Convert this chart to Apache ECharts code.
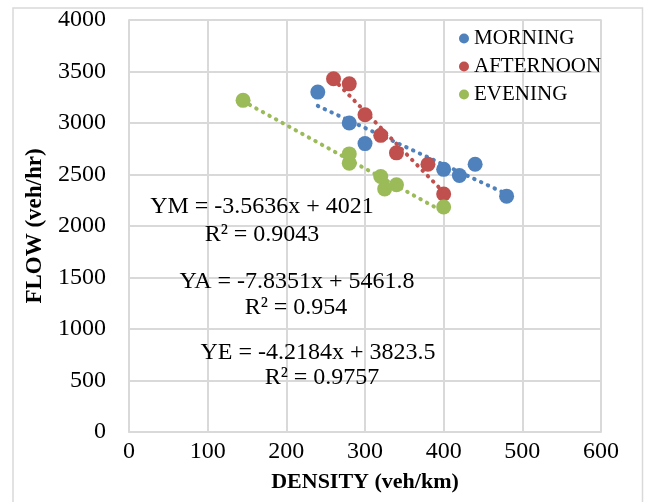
<!DOCTYPE html>
<html>
<head>
<meta charset="utf-8">
<script src="https://cdn.jsdelivr.net/npm/echarts@6/dist/echarts.min.js"></script>
<style>
html,body{margin:0;padding:0;background:#fff;}
#chart{width:646px;height:502px;}
</style>
</head>
<body>
<div id="chart"></div>
<script>
// ---- data ----
const seriesNames = ['MORNING', 'AFTERNOON', 'EVENING'];
const morning = [[240,3300],[280,3000],[300,2800],[400,2550],[420,2490],[440,2600],[480,2290]];
const afternoon = [[260,3430],[280,3380],[300,3080],[320,2880],[340,2710],[380,2600],[400,2310]];
const evening = [[145,3220],[280,2700],[280,2610],[320,2480],[325,2360],[340,2400],[400,2185]];
// trendline coefficients (slope, intercept) as printed on the chart
const slopes = [-3.5636, -7.8351, -4.2184];
const intercepts = [4021, 5461.8, 3823.5];
const equationTexts = ['YM = -3.5636x + 4021', 'YA = -7.8351x + 5461.8', 'YE = -4.2184x + 3823.5'];
const r2Texts = ['R² = 0.9043', 'R² = 0.954', 'R² = 0.9757'];
const xTicks = [0, 100, 200, 300, 400, 500, 600];
const yTicks = [0, 500, 1000, 1500, 2000, 2500, 3000, 3500, 4000];

const colors = ['#4F81BD', '#C0504D', '#9BBB59'];
const font = '"Liberation Serif", "Times New Roman", serif';
const allData = [morning, afternoon, evening];

function trend(i) {
  const xs = allData[i].map(p => p[0]);
  const x0 = Math.min(...xs), x1 = Math.max(...xs);
  return [[x0, slopes[i] * x0 + intercepts[i]], [x1, slopes[i] * x1 + intercepts[i]]];
}

const series = [];
for (let i = 0; i < 3; i++) {
  series.push({
    name: seriesNames[i] + ' trend',
    type: 'line',
    data: trend(i),
    symbol: 'none',
    silent: true,
    z: 1,
    lineStyle: { color: colors[i], width: 4, type: [0.5, 7], cap: 'round' }
  });
}
for (let i = 0; i < 3; i++) {
  series.push({
    name: seriesNames[i],
    type: 'scatter',
    data: allData[i],
    symbol: 'circle',
    symbolSize: 15,
    z: 3,
    itemStyle: { color: colors[i], opacity: 1 }
  });
}

const eqPos = [[262, 207, 262, 235], [297, 282, 296, 308], [318, 353, 322, 378]];
const graphics = [
  { type: 'rect', shape: { x: 13, y: 8, width: 629.5, height: 520 }, style: { fill: 'none', stroke: '#d9d9d9', lineWidth: 1.5 }, z: -10, silent: true }
];
for (let i = 0; i < 3; i++) {
  graphics.push({ type: 'text', x: eqPos[i][0], y: eqPos[i][1], z: 10,
    style: { text: equationTexts[i], font: '24px ' + font, fill: '#000', textAlign: 'center', textVerticalAlign: 'middle' } });
  graphics.push({ type: 'text', x: eqPos[i][2], y: eqPos[i][3], z: 10,
    style: { text: r2Texts[i], font: '24px ' + font, fill: '#000', textAlign: 'center', textVerticalAlign: 'middle' } });
}

const chart = echarts.init(document.getElementById('chart'), null, { renderer: 'canvas' });
chart.setOption({
  animation: false,
  backgroundColor: '#fff',
  color: colors,
  grid: { left: 129, right: 45, top: 20, bottom: 70, show: true, borderColor: '#d9d9d9', borderWidth: 1.5 },
  legend: {
    data: seriesNames,
    orient: 'vertical',
    left: 454, top: 23,
    icon: 'circle',
    itemWidth: 10, itemHeight: 10, itemGap: 7,
    textStyle: { fontFamily: font, fontSize: 21, color: '#000', padding: [0, 0, 0, 0] }
  },
  xAxis: {
    type: 'value', min: xTicks[0], max: xTicks[xTicks.length - 1], interval: 100,
    name: 'DENSITY (veh/km)', nameLocation: 'middle', nameGap: 39,
    nameTextStyle: { fontFamily: font, fontSize: 22, fontWeight: 'bold', color: '#000' },
    axisLine: { show: true, lineStyle: { color: '#d9d9d9', width: 1.5 } },
    axisTick: { show: false },
    axisLabel: { fontFamily: font, fontSize: 24, color: '#000', margin: 8 },
    splitLine: { show: true, lineStyle: { color: '#d9d9d9', width: 2 } }
  },
  yAxis: {
    type: 'value', min: yTicks[0], max: yTicks[yTicks.length - 1], interval: 500,
    name: 'FLOW (veh/hr)', nameLocation: 'middle', nameGap: 82, nameRotate: 90,
    nameTextStyle: { fontFamily: font, fontSize: 23, fontWeight: 'bold', color: '#000' },
    axisLine: { show: true, lineStyle: { color: '#d9d9d9', width: 1.5 } },
    axisTick: { show: false },
    axisLabel: { fontFamily: font, fontSize: 24, color: '#000', margin: 23, formatter: v => String(v) },
    splitLine: { show: true, lineStyle: { color: '#d9d9d9', width: 2 } }
  },
  graphic: graphics,
  series: series
});
</script>
</body>
</html>
